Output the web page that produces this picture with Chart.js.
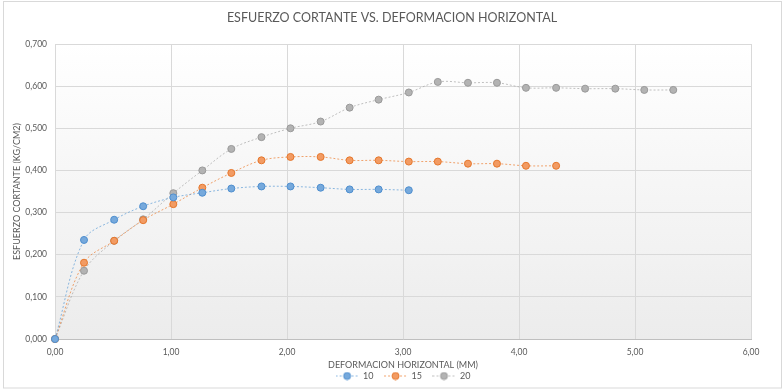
<!DOCTYPE html>
<html>
<head>
<meta charset="utf-8">
<script src="https://cdn.jsdelivr.net/npm/chart.js@4/dist/chart.umd.min.js"></script>
<style>
html,body{margin:0;padding:0;background:#fff;}
#wrap{width:784px;height:389px;}
</style>
</head>
<body>
<div id="wrap"><canvas id="c" width="784" height="389"></canvas></div>
<script>
// Data
const deformacion = [0, 0.25, 0.51, 0.76, 1.02, 1.27, 1.52, 1.78, 2.03, 2.29, 2.54, 2.79, 3.05, 3.30, 3.56, 3.81, 4.06, 4.32, 4.57, 4.83, 5.08, 5.33];
const esfuerzo10 = [0, 0.235, 0.283, 0.315, 0.336, 0.347, 0.357, 0.362, 0.362, 0.359, 0.355, 0.355, 0.353];
const esfuerzo15 = [0, 0.181, 0.233, 0.282, 0.320, 0.359, 0.394, 0.424, 0.432, 0.432, 0.424, 0.424, 0.421, 0.421, 0.416, 0.416, 0.411, 0.411];
const esfuerzo20 = [0, 0.162, 0.233, 0.284, 0.346, 0.400, 0.451, 0.479, 0.500, 0.516, 0.549, 0.568, 0.585, 0.610, 0.608, 0.608, 0.596, 0.596, 0.594, 0.594, 0.591, 0.591];
const seriesLabels = ['10', '15', '20'];
const xTicks = [0, 1, 2, 3, 4, 5, 6];
const yTicks = [0, 0.1, 0.2, 0.3, 0.4, 0.5, 0.6, 0.7];

const titleText = 'ESFUERZO CORTANTE VS. DEFORMACION HORIZONTAL';
const xTitle = 'DEFORMACION HORIZONTAL (MM)';
const yTitle = 'ESFUERZO CORTANTE (KG/CM2)';

const FONT = 'Lato';
const TXT = '#595959';
const styles = [
  {line: 'rgba(91,155,213,0.7)', fill: '#76a9dc', border: '#4f8fcf'},
  {line: 'rgba(237,125,49,0.7)', fill: '#f29b63', border: '#e6772c'},
  {line: 'rgba(165,165,165,0.7)', fill: '#b3b3b3', border: '#9a9a9a'}
];

function toPoints(ys) { return ys.map((y, i) => ({x: deformacion[i], y: y})); }

function legendIcon(st) {
  const cv = document.createElement('canvas');
  cv.width = 23; cv.height = 9;
  const g = cv.getContext('2d');
  g.strokeStyle = st.line; g.lineWidth = 1; g.setLineDash([2, 2]);
  g.beginPath(); g.moveTo(0, 4.5); g.lineTo(23, 4.5); g.stroke();
  g.setLineDash([]);
  g.beginPath(); g.arc(11.5, 4.5, 3.5, 0, Math.PI * 2);
  g.fillStyle = st.fill; g.fill();
  g.strokeStyle = st.border; g.stroke();
  return cv;
}
const icons = styles.map(legendIcon);

const bgPlugin = {
  id: 'bg',
  beforeDraw(chart) {
    const {ctx, chartArea: a} = chart;
    ctx.save();
    ctx.strokeStyle = '#d9d9d9'; ctx.lineWidth = 1;
    ctx.strokeRect(3.5, 1.5, 778, 386.5);
    const gr = ctx.createLinearGradient(0, a.top, 0, a.bottom);
    gr.addColorStop(0, '#ffffff');
    gr.addColorStop(1, '#ececec');
    ctx.fillStyle = gr;
    ctx.fillRect(a.left, a.top, a.right - a.left, a.bottom - a.top);
    ctx.restore();
  }
};

const datasets = [esfuerzo10, esfuerzo15, esfuerzo20].map((ys, i) => ({
  label: seriesLabels[i],
  data: toPoints(ys),
  borderColor: styles[i].line,
  backgroundColor: styles[i].fill,
  borderWidth: 1,
  borderDash: [2, 2],
  tension: 0.35,
  pointRadius: 3.5,
  pointBorderWidth: 1,
  pointBackgroundColor: styles[i].fill,
  pointBorderColor: styles[i].border,
  fill: false,
  clip: false
}));

new Chart(document.getElementById('c'), {
  type: 'line',
  data: {datasets},
  plugins: [bgPlugin],
  options: {
    responsive: false,
    animation: false,
    layout: {padding: {left: 8, right: 8, top: 0, bottom: -1.5}},
    plugins: {
      title: {
        display: true, text: titleText, color: TXT,
        font: {family: FONT, size: 12.5, weight: 'normal'},
        padding: {top: 10.5, bottom: 18.5}
      },
      legend: {
        position: 'bottom', fullSize: false,
        labels: {
          usePointStyle: true, pointStyleWidth: 23, padding: 10.5,
          color: TXT, font: {family: FONT, size: 9},
          generateLabels(chart) {
            return chart.data.datasets.map((d, i) => ({
              text: d.label, pointStyle: icons[i], datasetIndex: i,
              fillStyle: d.backgroundColor, strokeStyle: d.borderColor, lineWidth: 0,
              fontColor: TXT, hidden: false
            }));
          }
        }
      },
      tooltip: {enabled: false}
    },
    scales: {
      x: {
        type: 'linear', min: xTicks[0], max: xTicks[xTicks.length - 1],
        afterBuildTicks(s) { s.ticks = xTicks.map(v => ({value: v})); },
        afterFit(s) { s.height = 22; },
        ticks: {
          padding: 8, color: TXT, font: {family: FONT, size: 8.5},
          callback: v => Number(v).toFixed(2).replace('.', ',')
        },
        grid: {color: '#d9d9d9', drawTicks: false},
        border: {color: '#bfbfbf'},
        title: {display: true, text: xTitle, color: TXT, font: {family: FONT, size: 9}, padding: {top: 0, bottom: -9.2}}
      },
      y: {
        type: 'linear', min: yTicks[0], max: yTicks[yTicks.length - 1],
        afterBuildTicks(s) { s.ticks = yTicks.map(v => ({value: v})); },
        afterFit(s) { s.width = 47; },
        ticks: {
          padding: 8, color: TXT, font: {family: FONT, size: 8.5},
          callback: v => Number(v).toFixed(3).replace('.', ',')
        },
        grid: {color: '#d9d9d9', drawTicks: false},
        border: {color: '#d9d9d9'},
        title: {display: true, text: yTitle, color: TXT, font: {family: FONT, size: 9}, padding: {top: 3.6, bottom: 0}}
      },
      yRight: {
        type: 'linear', position: 'right', min: yTicks[0], max: yTicks[yTicks.length - 1],
        afterFit(s) { s.width = 25; },
        ticks: {display: false},
        grid: {display: false, drawTicks: false},
        border: {display: false},
        title: {display: false}
      }
    }
  }
});
</script>
</body>
</html>
